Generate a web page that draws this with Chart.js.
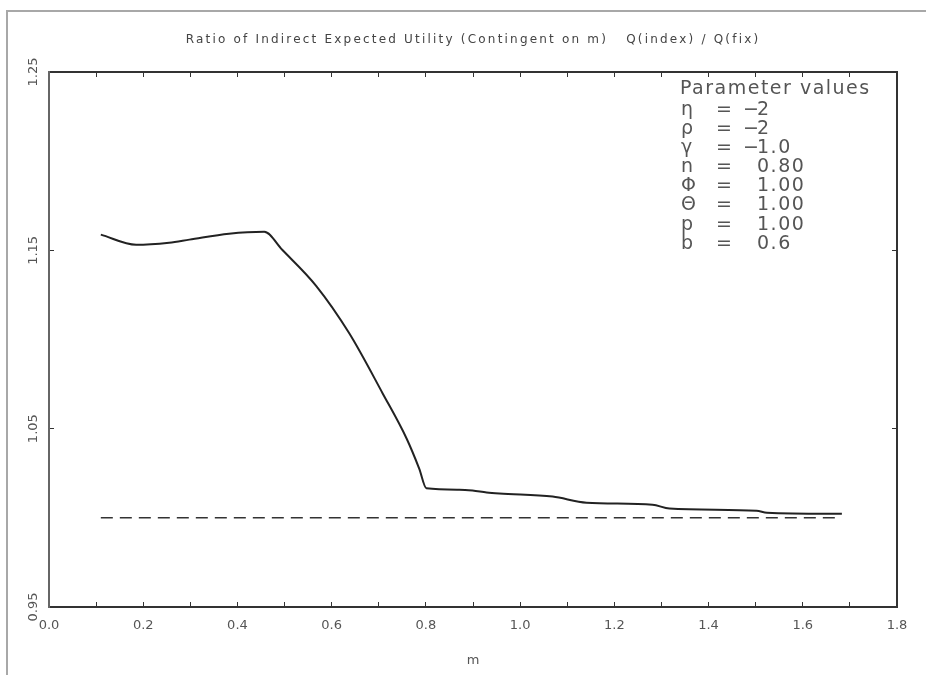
<!DOCTYPE html>
<html><head><meta charset="utf-8">
<script src="https://cdn.jsdelivr.net/npm/chart.js@4/dist/chart.umd.min.js"></script>
<style>html,body{margin:0;padding:0;background:#fff;}#wrap{width:926px;height:675px;}</style>
</head><body><div id="wrap"><canvas id="c" width="926" height="675"></canvas></div>
<script>
const chartTitle = 'Ratio of Indirect Expected Utility (Contingent on m)   Q(index) / Q(fix)';
const xAxisTitle = 'm';
const mValues = [0.11, 0.185, 0.255, 0.298, 0.382, 0.457, 0.495, 0.567, 0.637, 0.708, 0.759, 0.786, 0.801, 0.871, 0.899, 0.929, 0.956, 1.069, 1.141, 1.281, 1.317, 1.502, 1.524, 1.683];
const ratioValues = [1.1588, 1.1531, 1.1543, 1.1560, 1.1593, 1.1604, 1.1503, 1.1301, 1.1036, 1.0699, 1.0445, 1.0275, 1.0166, 1.0158, 1.0153, 1.0142, 1.0136, 1.0119, 1.0085, 1.0074, 1.0052, 1.0040, 1.0029, 1.0023];
const refM = [0.11, 1.68];
const refRatio = [1.0, 1.0];
const xTicks = [0, 0.1, 0.2, 0.3, 0.4, 0.5, 0.6, 0.7, 0.8, 0.9, 1.0, 1.1, 1.2, 1.3, 1.4, 1.5, 1.6, 1.7, 1.8];
const xTickLabels = ['0.0','','0.2','','0.4','','0.6','','0.8','','1.0','','1.2','','1.4','','1.6','','1.8'];
const yTicks = [0.95, 1.05, 1.15, 1.25];
const yTickLabels = ['0.95', '1.05', '1.15', '1.25'];
const legendHeader = 'Parameter values';
const paramSymbols = ['η', 'ρ', 'γ', 'n', 'Φ', 'Θ', 'p', 'b'];
const paramValues = ['−2', '−2', '−1.0', '0.80', '1.00', '1.00', '1.00', '0.6'];

const FONT = 'DejaVu Sans';
const decor = {
  id: 'decor',
  beforeDraw(chart) {
    const c = chart.ctx;
    c.save();
    c.fillStyle = '#fff';
    c.fillRect(0, 0, chart.width, chart.height);
    c.strokeStyle = '#a8a8a8';
    c.lineWidth = 2;
    c.beginPath();
    c.moveTo(7, 675); c.lineTo(7, 11); c.lineTo(926, 11);
    c.stroke();
    c.restore();
  },
  afterDraw(chart) {
    const c = chart.ctx;
    const a = chart.chartArea;
    c.save();
    c.fillStyle = '#444';
    c.font = '12px "' + FONT + '"';
    c.letterSpacing = '2.2px';
    c.textAlign = 'center';
    c.textBaseline = 'middle';
    c.fillText(chartTitle, (a.left + a.right) / 2, 40);
    c.fillStyle = '#555';
    c.font = '19px "' + FONT + '"';
    c.letterSpacing = '1.5px';
    c.textAlign = 'left';
    c.textBaseline = 'middle';
    c.fillText(legendHeader, 680, 89);
    paramSymbols.forEach((s, i) => {
      const y = 110 + i * 19.1;
      c.fillText(s, 681, y);
      c.fillText('=', 716, y);
      const v = paramValues[i];
      if (v.startsWith('−')) { c.fillText('−', 743, y); c.fillText(v.slice(1), 757, y); }
      else c.fillText(v, 757, y);
    });
    c.restore();
  }
};

const axisColor = '#333';
new Chart(document.getElementById('c'), {
  type: 'line',
  data: {
    datasets: [
      {
        data: mValues.map((x, i) => ({x, y: ratioValues[i]})),
        borderColor: '#222', borderWidth: 2, pointRadius: 0, cubicInterpolationMode: 'monotone', fill: false
      },
      {
        data: refM.map((x, i) => ({x, y: refRatio[i]})),
        borderColor: '#333', borderWidth: 1.5, borderDash: [12, 7], pointRadius: 0, fill: false
      }
    ]
  },
  options: {
    responsive: false, animation: false, devicePixelRatio: 1,
    layout: {padding: 0},
    plugins: {legend: {display: false}, tooltip: {enabled: false}, title: {display: false}},
    scales: {
      x: {
        type: 'linear', position: 'bottom', min: 0, max: 1.8,
        afterBuildTicks: s => { s.ticks = xTicks.map(v => ({value: v})); },
        afterFit: s => { s.height = 68; },
        border: {display: true, color: axisColor, width: 2},
        grid: {drawOnChartArea: false, tickLength: -5, color: axisColor, lineWidth: 1},
        ticks: {autoSkip: false, maxRotation: 0, minRotation: 0, color: '#555', padding: 16,
          font: {family: FONT, size: 13}, callback: (v, i) => xTickLabels[i]},
        title: {display: true, text: xAxisTitle, color: '#555', font: {family: FONT, size: 13}, padding: {top: 0, bottom: 7}}
      },
      x2: {
        type: 'linear', position: 'top', min: 0, max: 1.8,
        afterBuildTicks: s => { s.ticks = xTicks.map(v => ({value: v})); },
        afterFit: s => { s.height = 72; },
        border: {display: true, color: axisColor, width: 2},
        grid: {drawOnChartArea: false, tickLength: -5, color: axisColor, lineWidth: 1},
        ticks: {display: false}
      },
      y: {
        type: 'linear', position: 'left', min: 0.95, max: 1.25,
        afterBuildTicks: s => { s.ticks = yTicks.map(v => ({value: v})); },
        afterFit: s => { s.width = 49; },
        border: {display: true, color: '#666', width: 2},
        grid: {drawOnChartArea: false, tickLength: -5, color: axisColor, lineWidth: 1},
        ticks: {minRotation: 90, maxRotation: 90, crossAlign: 'center', color: '#555', padding: 6,
          font: {family: FONT, size: 13}, callback: (v, i) => yTickLabels[i]}
      },
      y2: {
        type: 'linear', position: 'right', min: 0.95, max: 1.25,
        afterBuildTicks: s => { s.ticks = yTicks.map(v => ({value: v})); },
        afterFit: s => { s.width = 29; },
        border: {display: true, color: axisColor, width: 2},
        grid: {drawOnChartArea: false, tickLength: -5, color: axisColor, lineWidth: 1},
        ticks: {display: false}
      }
    }
  },
  plugins: [decor]
});
</script></body></html>
